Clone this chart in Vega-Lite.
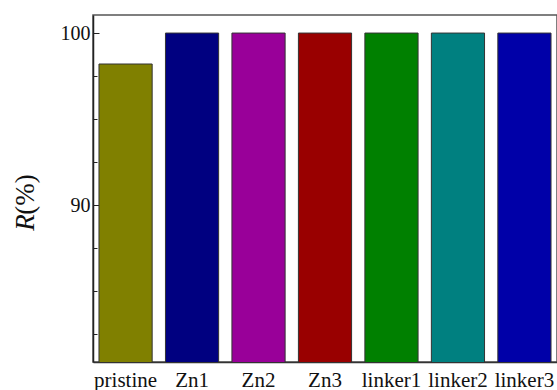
{
  "$schema": "https://vega.github.io/schema/vega-lite/v6.json",
  "width": 464,
  "height": 347,
  "autosize": {"type": "none"},
  "padding": {"left": 93, "top": 15, "right": 0, "bottom": 28},
  "background": "white",
  "config": {
    "view": {"stroke": "#555555", "strokeWidth": 1.5},
    "font": "Liberation Serif, Times New Roman, serif"
  },
  "data": {
    "values": [
      {"sample": "pristine", "R": 98.2, "color": "#808000"},
      {"sample": "Zn1", "R": 100, "color": "#000080"},
      {"sample": "Zn2", "R": 100, "color": "#990099"},
      {"sample": "Zn3", "R": 100, "color": "#990000"},
      {"sample": "linker1", "R": 100, "color": "#008000"},
      {"sample": "linker2", "R": 100, "color": "#008080"},
      {"sample": "linker3", "R": 100, "color": "#0000A8"}
    ]
  },
  "encoding": {
    "x": {
      "field": "sample",
      "type": "nominal",
      "sort": null,
      "scale": {"paddingInner": 0.2, "paddingOuter": 0.09},
      "axis": {
        "title": null,
        "labelAngle": 0,
        "labelFont": "Liberation Serif, Times New Roman, serif",
        "labelFontSize": 21,
        "labelColor": "#111111",
        "labelPadding": 7,
        "ticks": false,
        "domainColor": "#333333",
        "domainWidth": 1.5
      }
    },
    "fill": {"field": "color", "type": "nominal", "scale": null}
  },
  "layer": [
    {
      "mark": {"type": "bar", "stroke": "#333333", "strokeWidth": 1, "clip": true},
      "encoding": {
        "y": {
          "field": "R",
          "type": "quantitative",
          "scale": {"domain": [80.87, 101.05], "zero": false, "nice": false},
          "axis": {
            "orient": "left",
            "title": "R",
            "titleFont": "Liberation Serif, Times New Roman, serif",
            "titleFontSize": 27,
            "titleFontStyle": "italic",
            "titleFontWeight": "normal",
            "titleColor": "#111111",
            "titleX": -68,
            "titleY": 207,
            "titleAngle": -90,
            "titleAlign": "center",
            "titleBaseline": "middle",
            "values": [82.5, 85, 87.5, 90, 92.5, 95, 97.5, 100],
            "labelExpr": "datum.value % 10 === 0 ? datum.label : ''",
            "labelFont": "Liberation Serif, Times New Roman, serif",
            "labelFontSize": 20,
            "labelColor": "#111111",
            "labelPadding": 9,
            "tickSize": {"condition": {"test": "datum.value % 10 === 0", "value": -6}, "value": -4},
            "tickColor": "#222222",
            "tickWidth": 1,
            "domainColor": "#222222",
            "domainWidth": 1.5,
            "grid": false
          }
        }
      }
    },
    {
      "mark": {"type": "bar", "opacity": 0, "clip": true},
      "encoding": {
        "y": {
          "field": "R",
          "type": "quantitative",
          "scale": {"domain": [80.87, 101.05], "zero": false, "nice": false},
          "axis": {
            "orient": "left",
            "offset": 0,
            "title": "(%)",
            "titleFont": "Liberation Serif, Times New Roman, serif",
            "titleFontSize": 27,
            "titleFontWeight": "normal",
            "titleColor": "#111111",
            "titleX": -68,
            "titleY": 179,
            "titleAngle": -90,
            "titleAlign": "center",
            "titleBaseline": "middle",
            "labels": false,
            "ticks": false,
            "domain": false,
            "grid": false
          }
        }
      }
    }
  ],
  "resolve": {"axis": {"y": "independent"}}
}
